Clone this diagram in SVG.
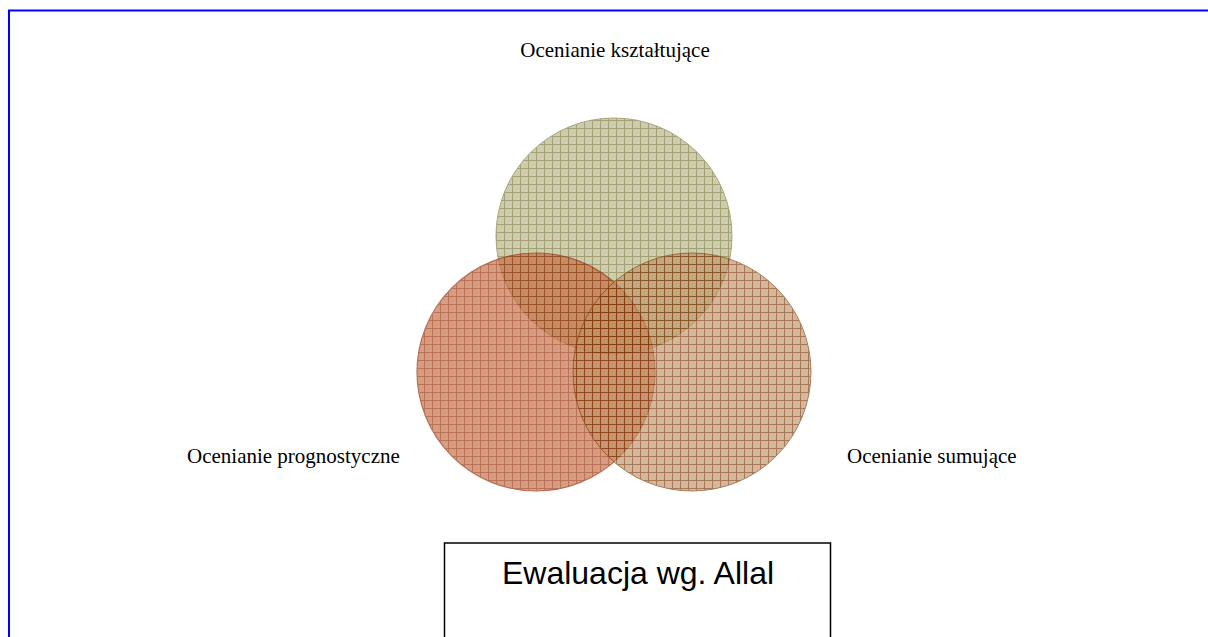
<svg xmlns="http://www.w3.org/2000/svg" width="1208" height="637" viewBox="0 0 1208 637">
  <style>
    .lbl { font-family: "Liberation Serif", "Times New Roman", serif; font-size: 21px; fill: #000; }
    .title { font-family: "Liberation Sans", Arial, sans-serif; font-size: 32px; fill: #000; }
  </style>
  <defs>
    <pattern id="pTop" width="8" height="8" patternUnits="userSpaceOnUse">
      <rect width="8" height="8" fill="#b5b285"/>
      <path d="M0 0.5H8M0.5 0V8" stroke="#737029" stroke-width="1"/>
    </pattern>
    <pattern id="pLeft" width="8" height="8" patternUnits="userSpaceOnUse">
      <rect width="8" height="8" fill="#c46a3e"/>
      <path d="M0 0.5H8M0.5 0V8" stroke="#962800" stroke-width="1"/>
    </pattern>
    <pattern id="pRight" width="8" height="8" patternUnits="userSpaceOnUse">
      <rect width="8" height="8" fill="#c09267"/>
      <path d="M0 0.5H8M0.5 0V8" stroke="#793200" stroke-width="1"/>
    </pattern>
  </defs>
  <rect width="1208" height="637" fill="#fff"/>
  <rect x="9" y="10.5" width="1300" height="700" fill="none" stroke="#0000ff" stroke-width="2"/>

  <g id="circle-top" opacity="0.65">
    <circle cx="614" cy="236" r="118" fill="url(#pTop)" stroke="#7a7636" stroke-width="1"/>
  </g>
  <g id="circle-left" opacity="0.65">
    <circle cx="536" cy="372" r="119" fill="url(#pLeft)" stroke="#8d2400" stroke-width="1.2"/>
  </g>
  <g id="circle-right" opacity="0.65">
    <circle cx="692" cy="372" r="119" fill="url(#pRight)" stroke="#7d3a00" stroke-width="1"/>
  </g>

  <g id="label-top"><text class="lbl" x="615" y="57" text-anchor="middle">Ocenianie kształtujące</text></g>
  <g id="label-left"><text class="lbl" x="187" y="463">Ocenianie prognostyczne</text></g>
  <g id="label-right"><text class="lbl" x="847" y="463">Ocenianie sumujące</text></g>

  <g id="title-box">
    <rect x="444.5" y="543" width="386" height="120" fill="#fff" stroke="#000" stroke-width="1.5"/>
    <text class="title" x="638" y="584" text-anchor="middle">Ewaluacja wg. Allal</text>
  </g>
  <g id="connectors"/>
</svg>
